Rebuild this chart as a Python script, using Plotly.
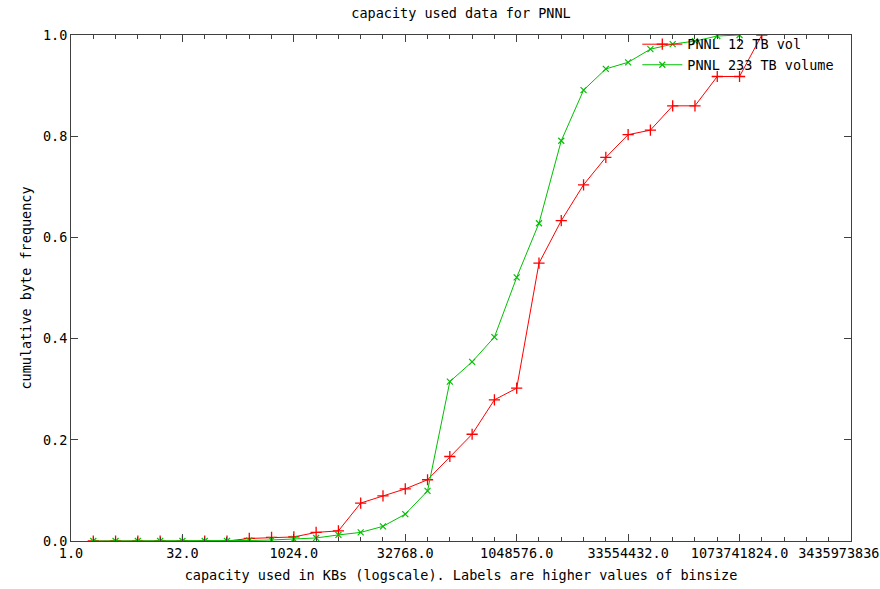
import plotly.graph_objects as go

# Bin upper bounds (KB)
x_red = [2, 4, 8, 16, 32, 64, 128, 256, 512, 1024, 2048, 4096, 8192, 16384,
         32768, 65536, 131072, 262144, 524288, 1048576, 2097152, 4194304,
         8388608, 16777216, 33554432, 67108864, 134217728, 268435456,
         536870912, 1073741824, 2147483648]
y_red = [0, 0, 0, 0, 0, 0, 0, 0.005, 0.007, 0.008, 0.017, 0.020, 0.075, 0.089,
         0.103, 0.121, 0.167, 0.211, 0.279, 0.302, 0.549, 0.633, 0.704, 0.758,
         0.803, 0.812, 0.860, 0.860, 0.918, 0.918, 1.0]

x_green = [2, 4, 8, 16, 32, 64, 128, 256, 512, 1024, 2048, 4096, 8192, 16384,
           32768, 65536, 131072, 262144, 524288, 1048576, 2097152, 4194304,
           8388608, 16777216, 33554432, 67108864, 134217728, 268435456,
           536870912, 1073741824]
y_green = [0, 0, 0, 0, 0, 0, 0, 0.001, 0.002, 0.004, 0.006, 0.012, 0.017, 0.029,
           0.053, 0.099, 0.315, 0.354, 0.403, 0.521, 0.628, 0.791, 0.891, 0.933,
           0.946, 0.972, 0.982, 0.988, 0.998, 1.0]

x_tickvals = [1, 32, 1024, 32768, 1048576, 33554432, 1073741824, 34359738368]
x_ticktext = ["1.0", "32.0", "1024.0", "32768.0", "1048576.0", "33554432.0",
              "1073741824.0", "34359738368.0"]
y_tickvals = [0, 0.2, 0.4, 0.6, 0.8, 1.0]
y_ticktext = ["0.0", "0.2", "0.4", "0.6", "0.8", "1.0"]

FONT = "DejaVu Sans Mono"
RED = "#ff0000"
GREEN = "#00c000"
AX = "#404040"

fig = go.Figure()
fig.add_trace(go.Scatter(
    x=x_red, y=y_red, mode="lines+markers", name="PNNL 12 TB vol",
    line=dict(color=RED, width=1),
    marker=dict(symbol="cross-thin", size=8, color=RED,
                line=dict(color=RED, width=1.3)),
))
fig.add_trace(go.Scatter(
    x=x_green, y=y_green, mode="lines+markers", name="PNNL 233 TB volume",
    line=dict(color=GREEN, width=1),
    marker=dict(symbol="x-thin", size=6, color=GREEN,
                line=dict(color=GREEN, width=1.2)),
))

fig.update_layout(
    width=880, height=589,
    margin=dict(l=71, r=29, t=35, b=48),
    paper_bgcolor="white", plot_bgcolor="white",
    font=dict(family=FONT, size=13.5, color="black"),
    title=dict(text="capacity used data for PNNL", x=0.5, xref="paper",
               xanchor="center", y=1 - 13 / 589, yanchor="middle",
               font=dict(family=FONT, size=13.5, color="black")),
    showlegend=True,
    legend=dict(x=0.985, y=1.012, xanchor="right", yanchor="top",
                bgcolor="rgba(0,0,0,0)", borderwidth=0,
                font=dict(family=FONT, size=13.5, color="black"),
                tracegroupgap=0, itemwidth=40),
)

fig.update_xaxes(
    type="log", range=[0, 35 * 0.30102999566 + 0.0005],
    tickmode="array", tickvals=x_tickvals, ticktext=x_ticktext,
    ticklabeloverflow="allow",
    ticks="inside", ticklen=7, tickcolor=AX, tickwidth=1,
    minor=dict(ticks="inside", ticklen=4, tickcolor=AX, tickwidth=1,
               tickmode="array",
               tickvals=[2 ** k for k in range(0, 36)], showgrid=False),
    showline=True, linecolor=AX, linewidth=1, mirror="ticks",
    showgrid=False, zeroline=False,
    tickfont=dict(family=FONT, size=13.5, color="black"),
    title=dict(text="capacity used in KBs (logscale). Labels are higher values of binsize",
               standoff=10, font=dict(family=FONT, size=13.5, color="black")),
    automargin=False,
)
fig.update_yaxes(
    range=[0, 1], tickmode="array", tickvals=y_tickvals, ticktext=y_ticktext,
    ticks="inside", ticklen=7, tickcolor=AX, tickwidth=1,
    showline=True, linecolor=AX, linewidth=1, mirror="ticks",
    showgrid=False, zeroline=False,
    tickfont=dict(family=FONT, size=13.5, color="black"),
    title=dict(text="cumulative byte frequency", standoff=8,
               font=dict(family=FONT, size=13.5, color="black")),
    automargin=False,
)

fig.write_html("out.html")
